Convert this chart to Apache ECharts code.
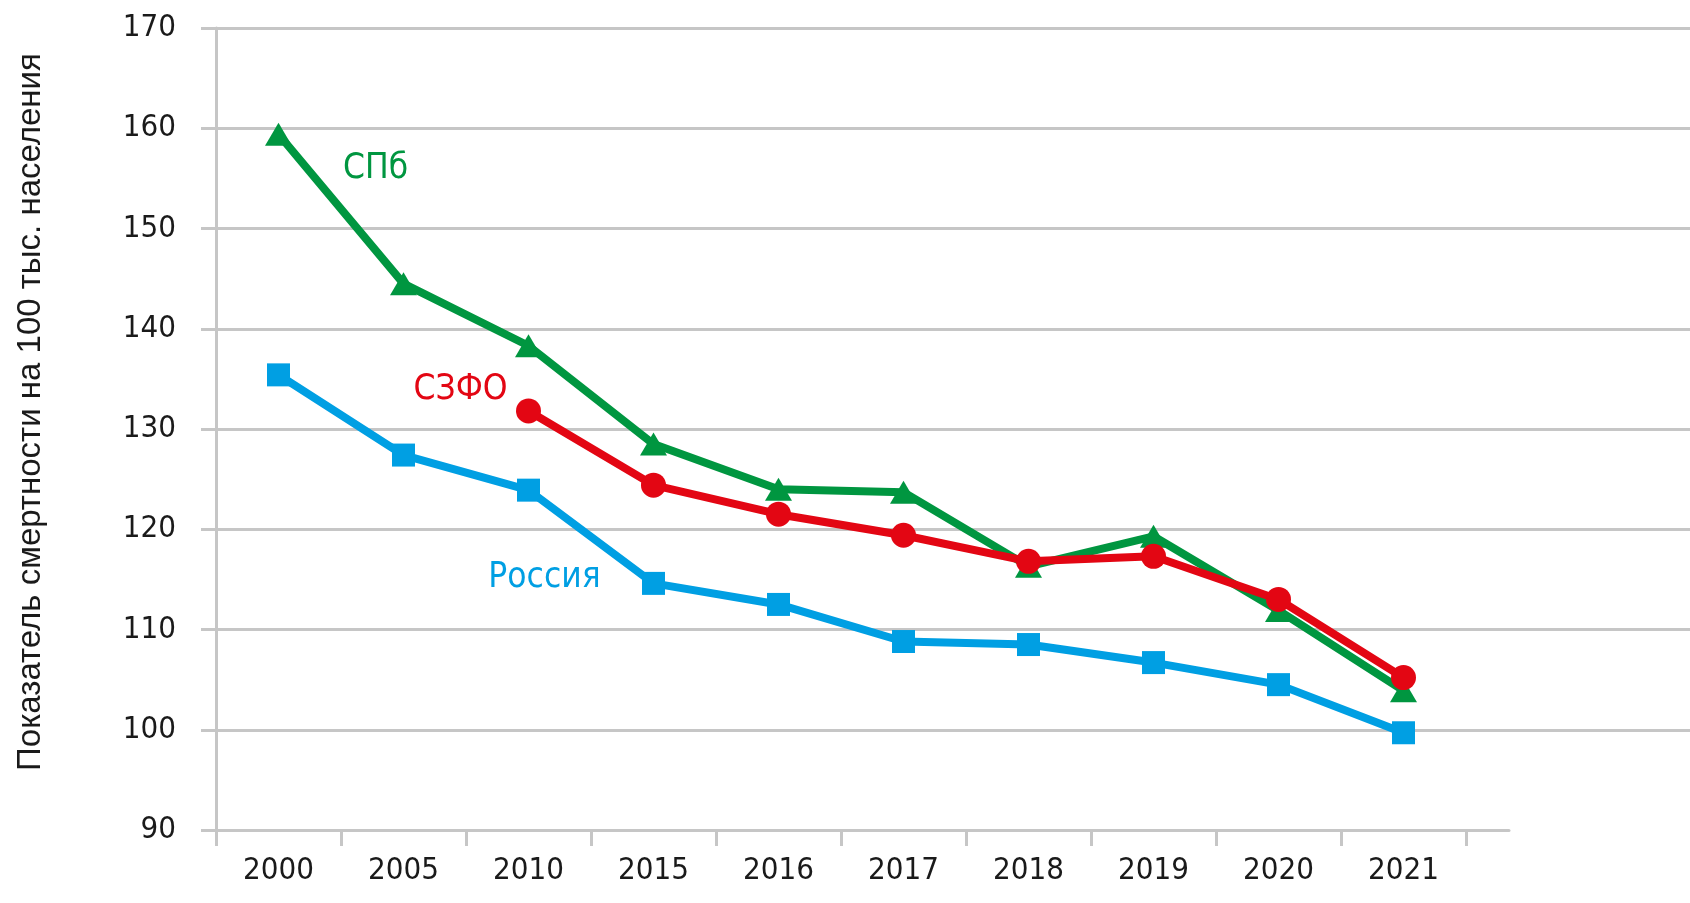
<!DOCTYPE html>
<html lang="ru">
<head>
    <meta charset="utf-8"/>
    <title>Показатель смертности</title>
    <script src="https://cdn.jsdelivr.net/npm/echarts@6/dist/echarts.min.js"></script>
    <style type="text/css">
        html, body {
            height: 100%;
            margin: 0;
            background: #ffffff;
        }
        #main {
            width: 1690px;
            height: 903px;
        }
    </style>
</head>
<body>
<div id="main"></div>
<script>
    // годы по оси X
    var years = ['2000', '2005', '2010', '2015', '2016', '2017', '2018', '2019', '2020', '2021'];

    // значения
    var russia = [135.4, 127.4, 123.9, 114.6, 112.5, 108.8, 108.5, 106.7, 104.5, 99.7];
    var szfo   = ['-', '-', 131.8, 124.4, 121.5, 119.4, 116.8, 117.3, 113.0, 105.2];
    var spb    = [159.4, 144.5, 138.3, 128.5, 124.0, 123.7, 116.3, 119.3, 111.9, 103.9];

    var yMin = 90, yMax = 170, yStep = 10;

    var narrow = "'Liberation Sans Narrow', 'DejaVu Sans Condensed', sans-serif";
    var grey = '#c6c6c6';
    var cBlue = '#009fe3', cRed = '#e30613', cGreen = '#009640';

    // подпись серии вешаем на одну из точек
    function withLabel(values, idx, text, color, offset) {
        return values.map(function (v, i) {
            if (i !== idx) return v;
            return {
                value: v,
                label: {
                    show: true,
                    position: 'inside',
                    formatter: text,
                    offset: offset,
                    color: color,
                    fontFamily: narrow,
                    fontSize: 35
                }
            };
        });
    }

    var myChart = echarts.init(document.getElementById('main'));

    var option = {
        animation: false,
        backgroundColor: '#ffffff',
        grid: [
            {left: 216, right: 224, top: 28, bottom: 73},
            {left: 216, right: 0, top: 28, bottom: 173},
            {left: 216, right: 181, top: 28, bottom: 73}
        ],
        xAxis: [
            {
                gridIndex: 0,
                type: 'category',
                data: years,
                boundaryGap: true,
                axisLine: {show: true, lineStyle: {color: grey, width: 3}},
                axisTick: {show: true, interval: 0, length: 16, lineStyle: {color: grey, width: 3}},
                axisLabel: {interval: 0, margin: 25, color: '#1a1a1a', fontFamily: narrow, fontSize: 31},
                splitLine: {show: false}
            },
            {gridIndex: 1, type: 'value', show: false},
            {
                gridIndex: 2, type: 'value', min: 0, max: 1,
                axisLine: {show: true, lineStyle: {color: grey, width: 3}},
                axisTick: {show: false}, axisLabel: {show: false}, splitLine: {show: false}
            }
        ],
        yAxis: [
            {
                gridIndex: 0,
                type: 'value',
                min: yMin, max: yMax, interval: yStep,
                axisLine: {show: true, lineStyle: {color: grey, width: 3}},
                axisTick: {show: true, length: 15, lineStyle: {color: grey, width: 3}},
                axisLabel: {margin: 40, color: '#1a1a1a', fontFamily: narrow, fontSize: 31},
                splitLine: {show: false}
            },
            {
                // сетка до правого края, от 100 до 170
                gridIndex: 1,
                type: 'value',
                min: 100, max: yMax, interval: yStep,
                axisLine: {show: false}, axisTick: {show: false}, axisLabel: {show: false},
                splitLine: {show: true, lineStyle: {color: grey, width: 3}}
            },
            {gridIndex: 2, type: 'value', show: false}
        ],
        graphic: [{
            type: 'text',
            x: 31,
            y: 412,
            rotation: Math.PI / 2,
            style: {
                text: 'Показатель смертности на 100 тыс. населения',
                fill: '#1a1a1a',
                font: "33px 'Liberation Sans', Arial, sans-serif",
                textAlign: 'center',
                textVerticalAlign: 'middle'
            }
        }],
        series: [
            {
                name: 'Россия',
                type: 'line',
                data: withLabel(russia, 2, 'Россия', cBlue, [16, 88]),
                symbol: 'rect',
                symbolSize: 23,
                lineStyle: {color: cBlue, width: 8},
                itemStyle: {color: cBlue}
            },
            {
                name: 'СПб',
                type: 'line',
                data: withLabel(spb, 0, 'СПб', cGreen, [97, 35]),
                symbol: 'triangle',
                symbolSize: [27, 23],
                lineStyle: {color: cGreen, width: 8},
                itemStyle: {color: cGreen}
            },
            {
                name: 'СЗФО',
                type: 'line',
                data: withLabel(szfo, 2, 'СЗФО', cRed, [-68, -21]),
                symbol: 'circle',
                symbolSize: 25,
                lineStyle: {color: cRed, width: 8},
                itemStyle: {color: cRed}
            }
        ]
    };

    myChart.setOption(option);
</script>
</body>
</html>
